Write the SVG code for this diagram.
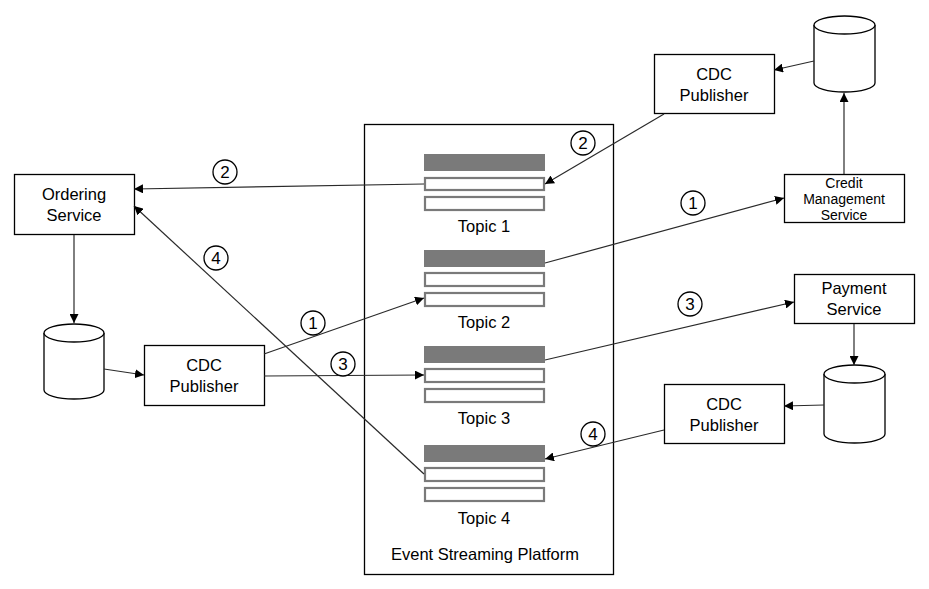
<svg xmlns="http://www.w3.org/2000/svg" width="929" height="589" viewBox="0 0 929 589">
<style>
.box{fill:#fff;stroke:#000;stroke-width:1.3}
.t{font-family:"Liberation Sans",Arial,sans-serif;font-size:16.5px;fill:#000;text-anchor:middle}
.ts{font-family:"Liberation Sans",Arial,sans-serif;font-size:14px;fill:#000;text-anchor:middle}
.tn{font-family:"Liberation Sans",Arial,sans-serif;font-size:17px;fill:#000;text-anchor:middle}
.dark{fill:#7a7a7a}
.lite{fill:#fff;stroke:#7a7a7a;stroke-width:2.2}
.c{fill:none;stroke:#2a2a2a;stroke-width:1.2;marker-end:url(#ah)}
.num{fill:#fff;stroke:#000;stroke-width:1.3}
.db{fill:#fff;stroke:#000;stroke-width:1.3}
</style>
<defs>
<marker id="ah" viewBox="0 0 10 10" refX="10" refY="5" markerWidth="9" markerHeight="9" markerUnits="userSpaceOnUse" orient="auto">
<path d="M0,0 L10,5 L0,10 z" fill="#000"/>
</marker>
</defs>
<rect width="929" height="589" fill="#fff"/>

<g id="platform">
<rect x="364.5" y="124.5" width="249" height="450" class="box"/>
<text x="485" y="560" class="t">Event Streaming Platform</text>
</g>
<g id="topic1">
<rect x="424" y="154" width="121" height="17" class="dark"/>
<rect x="425" y="178" width="119" height="12" class="lite"/>
<rect x="425" y="197" width="119" height="13" class="lite"/>
<text x="484" y="232" class="t">Topic 1</text>
</g>
<g id="topic2">
<rect x="424" y="250" width="121" height="17" class="dark"/>
<rect x="425" y="273" width="119" height="13" class="lite"/>
<rect x="425" y="293" width="119" height="13" class="lite"/>
<text x="484" y="328" class="t">Topic 2</text>
</g>
<g id="topic3">
<rect x="424" y="346" width="121" height="17" class="dark"/>
<rect x="425" y="369" width="119" height="13" class="lite"/>
<rect x="425" y="389" width="119" height="13" class="lite"/>
<text x="484" y="424" class="t">Topic 3</text>
</g>
<g id="topic4">
<rect x="424" y="445" width="121" height="17" class="dark"/>
<rect x="425" y="468" width="119" height="13" class="lite"/>
<rect x="425" y="488" width="119" height="13" class="lite"/>
<text x="484" y="524" class="t">Topic 4</text>
</g>

<g id="ordering-service">
<rect x="14.5" y="174.5" width="120" height="60" class="box"/>
<text x="74" y="200" class="t">Ordering</text>
<text x="74" y="221" class="t">Service</text>
</g>
<g id="ordering-db">
<path d="M44,333 L44,390 A30,9 0 0 0 104,390 L104,333" class="db"/>
<ellipse cx="74" cy="333" rx="30" ry="9" class="db"/>
</g>
<g id="cdc-left">
<rect x="144.5" y="345.5" width="120" height="60" class="box"/>
<text x="204" y="371" class="t">CDC</text>
<text x="204" y="392" class="t">Publisher</text>
</g>

<g id="credit-db">
<path d="M814,25 L814,83 A30.5,9 0 0 0 875,83 L875,25" class="db"/>
<ellipse cx="844.5" cy="25" rx="30.5" ry="9" class="db"/>
</g>
<g id="cdc-top">
<rect x="654.5" y="54.5" width="120" height="59" class="box"/>
<text x="714" y="80" class="t">CDC</text>
<text x="714" y="101" class="t">Publisher</text>
</g>
<g id="credit-service">
<rect x="784.5" y="174.5" width="120" height="48" class="box"/>
<text x="844" y="188" class="ts">Credit</text>
<text x="844" y="204" class="ts">Management</text>
<text x="844" y="220" class="ts">Service</text>
</g>

<g id="payment-service">
<rect x="794.5" y="274.5" width="120" height="49" class="box"/>
<text x="854" y="294" class="t">Payment</text>
<text x="854" y="315" class="t">Service</text>
</g>
<g id="payment-db">
<path d="M824,374 L824,434 A30.5,9 0 0 0 885,434 L885,374" class="db"/>
<ellipse cx="854.5" cy="374" rx="30.5" ry="9" class="db"/>
</g>
<g id="cdc-bottom">
<rect x="664.5" y="384.5" width="120" height="59" class="box"/>
<text x="724" y="410" class="t">CDC</text>
<text x="724" y="431" class="t">Publisher</text>
</g>

<g id="connectors">
<line x1="74" y1="235" x2="74" y2="323" class="c"/>
<line x1="104" y1="369" x2="144" y2="375" class="c"/>
<line x1="814" y1="61" x2="774" y2="70" class="c"/>
<line x1="844" y1="174" x2="844" y2="93" class="c"/>
<line x1="664" y1="114" x2="545" y2="184" class="c"/>
<line x1="424" y1="184" x2="134" y2="189" class="c"/>
<line x1="264" y1="354" x2="424" y2="298" class="c"/>
<line x1="545" y1="263" x2="784" y2="198" class="c"/>
<line x1="264" y1="376" x2="424" y2="375" class="c"/>
<line x1="545" y1="360" x2="794" y2="302" class="c"/>
<line x1="854" y1="324" x2="854" y2="365" class="c"/>
<line x1="824" y1="405" x2="784" y2="406" class="c"/>
<line x1="664" y1="430" x2="545" y2="459" class="c"/>
<line x1="424" y1="474" x2="134" y2="206" class="c"/>
</g>

<g id="labels">
<circle cx="583" cy="143" r="12" class="num"/><text x="583" y="149" class="tn">2</text>
<circle cx="225" cy="172" r="12" class="num"/><text x="225" y="178" class="tn">2</text>
<circle cx="313" cy="323" r="12" class="num"/><text x="313" y="329" class="tn">1</text>
<circle cx="693" cy="203" r="12" class="num"/><text x="693" y="209" class="tn">1</text>
<circle cx="343" cy="364" r="12" class="num"/><text x="343" y="370" class="tn">3</text>
<circle cx="690" cy="304" r="12" class="num"/><text x="690" y="310" class="tn">3</text>
<circle cx="593" cy="434" r="12" class="num"/><text x="593" y="440" class="tn">4</text>
<circle cx="216" cy="258" r="12" class="num"/><text x="216" y="264" class="tn">4</text>
</g>
</svg>
